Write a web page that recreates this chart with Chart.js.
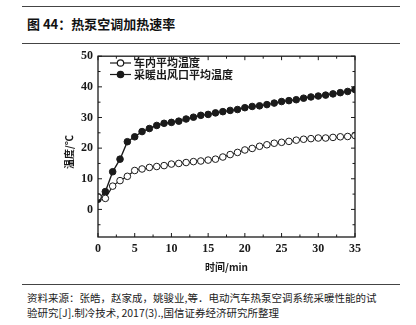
<!DOCTYPE html>
<html>
<head>
<meta charset="utf-8">
<script src="https://cdn.jsdelivr.net/npm/chart.js@4.4.0/dist/chart.umd.min.js"></script>
<style>
  html, body { margin: 0; padding: 0; background: #fff; }
  body { width: 416px; height: 325px; position: relative; overflow: hidden; font-family: "Noto Sans CJK SC", sans-serif; }
  .rule { position: absolute; left: 22px; width: 378px; height: 0; border-top: 1px solid #444; }
  #title { position: absolute; left: 27px; top: 14px; font-size: 13px; font-weight: bold; color: #111; line-height: 20px; }
  #chartBox { position: absolute; left: 0; top: 44px; width: 416px; height: 238px; }
  .src { position: absolute; left: 27px; font-size: 10.5px; color: #222; line-height: 14px; white-space: nowrap; }
</style>
</head>
<body>
<div class="rule" style="top:6px"></div>
<div id="title">图 44：热泵空调加热速率</div>
<div class="rule" style="top:43px"></div>
<div id="chartBox"><canvas id="heatChart" width="416" height="238"></canvas></div>
<div class="rule" style="top:284px"></div>
<div class="src" style="top:291px">资料来源：张皓，赵家成，姚骏业,等．电动汽车热泵空调系统采暖性能的试</div>
<div class="src" style="top:306px">验研究[J].制冷技术, 2017(3).,国信证券经济研究所整理</div>

<script>
// ================= DATOS =================
const minutes = [0,1,2,3,4,5,6,7,8,9,10,11,12,13,14,15,16,17,18,19,20,21,22,23,24,25,26,27,28,29,30,31,32,33,34,35];

const cabinTemp = [4.1,3.6,7.6,9.4,10.8,12.7,13.2,13.7,14.0,14.3,14.8,15.0,15.3,15.6,15.8,16.1,16.4,17.1,17.9,18.6,19.4,19.9,20.6,21.1,21.6,21.9,22.2,22.6,22.9,23.1,23.3,23.3,23.5,23.7,23.8,24.1];

const outletTemp = [3.3,5.8,12.3,16.4,22.1,23.7,25.4,26.4,27.4,28.1,28.4,28.8,29.5,30.1,30.7,31.0,31.5,31.9,32.3,32.6,33.2,33.6,33.8,34.2,34.7,35.2,35.5,35.8,36.3,36.7,37.0,37.3,37.7,38.1,38.5,39.1];

const seriesNames = ["车内平均温度", "采暖出风口平均温度"];
const xTicks = [0,5,10,15,20,25,30,35];
const yTicks = [0,10,20,30,40,50];
const xTitle = "时间/min";
const yTitle = "温度/℃";

const INK = "#1a1a1a";
const SERIF = "'Liberation Serif', 'DejaVu Serif', serif";

function toPoints(values) {
    return minutes.map((m, i) => ({ x: m, y: values[i] }));
}

// ================= MARCO, TICKS, LEYENDA =================
const framePlugin = {
    id: "frame",
    afterDraw(chart) {
        const c = chart.ctx;
        const a = chart.chartArea;
        const xs = chart.scales.x;
        const ys = chart.scales.y;

        c.save();
        c.strokeStyle = INK;
        c.lineWidth = 1.3;
        c.strokeRect(a.left, a.top, a.right - a.left, a.bottom - a.top);

        c.lineWidth = 1;
        c.beginPath();
        // x ticks (major + minor), inward on bottom and top
        for (let v = 0; v <= 35; v += 2.5) {
            const px = xs.getPixelForValue(v);
            const len = (v % 5 === 0) ? 4 : 2.5;
            c.moveTo(px, a.bottom); c.lineTo(px, a.bottom - len);
            c.moveTo(px, a.top); c.lineTo(px, a.top + len);
        }
        // y ticks, inward on left and right
        for (let v = -5; v <= 50; v += 5) {
            const py = ys.getPixelForValue(v);
            const len = (v % 10 === 0) ? 4 : 2.5;
            c.moveTo(a.left, py); c.lineTo(a.left + len, py);
            c.moveTo(a.right, py); c.lineTo(a.right - len, py);
        }
        c.stroke();

        // axis titles
        c.fillStyle = INK;
        c.font = "bold 10px 'Noto Sans CJK SC'";
        c.textAlign = "center";
        c.textBaseline = "middle";
        c.fillText(xTitle, (a.left + a.right) / 2, 223);
        c.save();
        c.translate(69, 108);
        c.rotate(-Math.PI / 2);
        c.fillText(yTitle, 0, 0);
        c.restore();

        // legend inside the plot
        const items = chart.data.datasets;
        c.font = "bold 11px 'Noto Sans CJK SC'";
        c.textAlign = "left";
        items.forEach((ds, i) => {
            const y = 19 + i * 11.5;
            c.strokeStyle = INK;
            c.lineWidth = 1.2;
            c.beginPath();
            c.moveTo(110, y); c.lineTo(131, y);
            c.stroke();
            c.beginPath();
            c.arc(120.5, y, 3.2, 0, Math.PI * 2);
            c.fillStyle = ds.pointBackgroundColor;
            c.fill();
            c.stroke();
            c.fillStyle = INK;
            c.fillText(seriesNames[i], 134, y);
        });
        c.restore();
    }
};

// ================= GRÁFICA =================
const ctx = document.getElementById("heatChart");

const heatChart = new Chart(ctx, {
    type: "line",
    data: {
        datasets: [{
            label: seriesNames[0],
            data: toPoints(cabinTemp),
            borderColor: INK,
            borderWidth: 1.2,
            pointBackgroundColor: "#ffffff",
            pointBorderColor: INK,
            pointBorderWidth: 1,
            pointRadius: 3.3,
            tension: 0
        }, {
            label: seriesNames[1],
            data: toPoints(outletTemp),
            borderColor: INK,
            borderWidth: 1.4,
            pointBackgroundColor: INK,
            pointBorderColor: INK,
            pointBorderWidth: 1,
            pointRadius: 3.3,
            tension: 0
        }]
    },
    options: {
        responsive: false,
        animation: false,
        events: [],
        layout: { padding: { left: 0, top: 7, right: 61, bottom: 0 } },
        plugins: { legend: { display: false }, tooltip: { enabled: false } },
        scales: {
            x: {
                type: "linear",
                min: 0,
                max: 35,
                afterBuildTicks: s => { s.ticks = xTicks.map(v => ({ value: v })); },
                afterFit: s => { s.height = 45; },
                grid: { display: false, drawTicks: false },
                border: { display: false },
                ticks: {
                    padding: 5,
                    color: INK,
                    font: { family: SERIF, size: 12, weight: "bold" }
                }
            },
            y: {
                type: "linear",
                min: -9,
                max: 50,
                afterBuildTicks: s => { s.ticks = yTicks.map(v => ({ value: v })); },
                afterFit: s => { s.width = 98; },
                grid: { display: false, drawTicks: false },
                border: { display: false },
                ticks: {
                    padding: 5,
                    color: INK,
                    font: { family: SERIF, size: 12, weight: "bold" }
                }
            }
        }
    },
    plugins: [framePlugin]
});
</script>
</body>
</html>
